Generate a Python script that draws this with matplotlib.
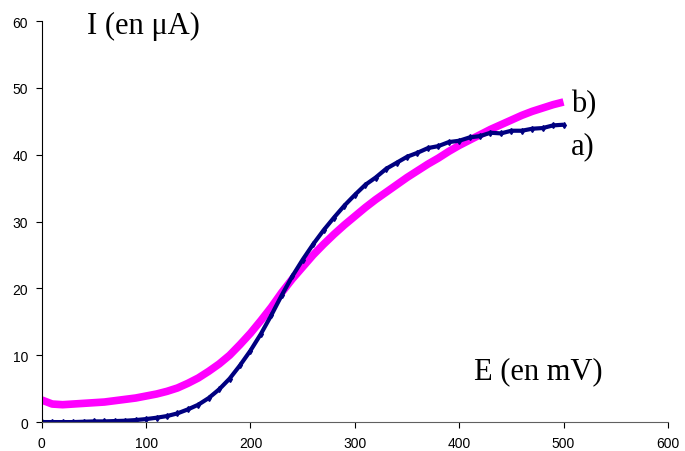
import matplotlib
matplotlib.use("Agg")
import matplotlib.pyplot as plt

E = [0, 10, 20, 30, 40, 50, 60, 70, 80, 90,
     100, 110, 120, 130, 140, 150, 160, 170, 180, 190,
     200, 210, 220, 230, 240, 250, 260, 270, 280, 290,
     300, 310, 320, 330, 340, 350, 360, 370, 380, 390,
     400, 410, 420, 430, 440, 450, 460, 470, 480, 490, 500]

# courbe a)
I_a = [0.0, 0.0, 0.0, 0.0, 0.05, 0.1, 0.1, 0.15, 0.2, 0.3,
       0.45, 0.65, 0.9, 1.3, 1.9, 2.6, 3.6, 4.9, 6.5, 8.5,
       10.7, 13.2, 16.0, 19.0, 21.8, 24.3, 26.6, 28.7, 30.6, 32.4,
       34.0, 35.5, 36.6, 37.9, 38.8, 39.7, 40.3, 41.0, 41.3, 41.9,
       42.1, 42.6, 42.8, 43.3, 43.2, 43.6, 43.6, 43.9, 44.0, 44.4, 44.5]

# courbe b)
I_b = [3.3, 2.7, 2.6, 2.7, 2.8, 2.9, 3.0, 3.2, 3.4, 3.6,
       3.9, 4.2, 4.6, 5.1, 5.8, 6.6, 7.6, 8.7, 10.0, 11.6,
       13.3, 15.2, 17.2, 19.4, 21.4, 23.2, 25.0, 26.6, 28.1, 29.5,
       30.8, 32.1, 33.3, 34.4, 35.5, 36.6, 37.6, 38.6, 39.5, 40.5,
       41.4, 42.2, 43.0, 43.8, 44.5, 45.2, 45.9, 46.5, 47.0, 47.5, 47.9]

fig = plt.figure(figsize=(6.85, 4.52), dpi=100)
ax = fig.add_axes([0.061, 0.064, 0.914, 0.887])

ax.plot(E, I_b, color="#FF00FF", lw=5.5, solid_capstyle="butt")
ax.plot(E, I_a, color="#000080", lw=3, marker="d", ms=3, solid_capstyle="butt")

ax.set_xlim(0, 600)
ax.set_ylim(0, 60)
ax.set_xticks(range(0, 601, 100))
ax.set_yticks(range(0, 61, 10))
ax.spines["top"].set_visible(False)
ax.spines["right"].set_visible(False)
ax.spines["bottom"].set_color("#606060")
ax.tick_params(direction="out", length=4, labelsize=10, pad=6)
for lab in ax.get_xticklabels() + ax.get_yticklabels():
    lab.set_family("Liberation Sans")

serif = dict(family="Liberation Serif", fontsize=22)
ax.text(0.073, 0.99, "I (en \u03bcA)", transform=ax.transAxes, va="center", **serif)
ax.text(0.69, 0.127, "E (en mV)", transform=ax.transAxes, va="center", **serif)
ax.text(507, 47.6, "b)", va="center", **serif)
ax.text(507, 41.3, "a)", va="center", **serif)

fig.savefig("out.png")
